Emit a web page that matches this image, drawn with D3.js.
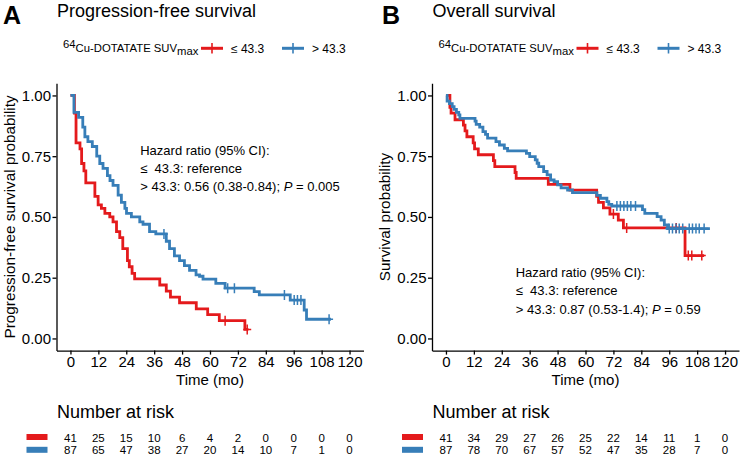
<!DOCTYPE html>
<html>
<head>
<meta charset="utf-8">
<script src="https://cdn.jsdelivr.net/npm/d3@7"></script>
<style>
  body { margin: 0; background: #fff; }
  text { font-family: "Liberation Sans", Arial, sans-serif; fill: #000; }
</style>
</head>
<body>
<div id="chart"></div>
<script>
// tick labels and groups
const timeTicks = [0, 12, 24, 36, 48, 60, 72, 84, 96, 108, 120];
const probTicks = [0, 0.25, 0.5, 0.75, 1];
const groupLabels = ["\u2264 43.3", "> 43.3"];
const groupColors = ["#E41A1C", "#377EB8"];

// A: progression-free survival, SUVmax <= 43.3
const pfsLowTime = [0, 1.7, 2.4, 4.1, 4.8, 5.8, 6.6, 10.5, 11.9, 13.3, 14.8, 16.9, 18.3, 19.8, 21.2, 22.5, 24.5, 25.3, 26.5, 27.6, 38.4, 41.2, 43, 46.9, 54.1, 59, 64, 75, 76.5];
const pfsLowSurv = [1, 0.927, 0.805, 0.78, 0.72, 0.69, 0.64, 0.585, 0.55, 0.535, 0.515, 0.5, 0.48, 0.44, 0.415, 0.37, 0.32, 0.295, 0.268, 0.245, 0.22, 0.195, 0.17, 0.147, 0.122, 0.098, 0.073, 0.037, 0.037];
const pfsLowCensor = [66.5, 76];
// A: SUVmax > 43.3
const pfsHighTime = [0, 1.5, 3.5, 5.3, 6.2, 7.5, 9.4, 11.3, 12.6, 14, 15.9, 17, 18.3, 20.5, 21.9, 23.4, 24.1, 26.2, 29.8, 31.2, 34, 36.7, 41.2, 42.6, 44.7, 46.9, 49, 51.2, 54, 55.5, 57, 62.5, 66.5, 79, 81.2, 94.5, 100.5, 101.5, 112];
const pfsHighSurv = [1, 0.93, 0.91, 0.87, 0.83, 0.81, 0.79, 0.75, 0.72, 0.7, 0.67, 0.65, 0.63, 0.59, 0.56, 0.535, 0.515, 0.5, 0.48, 0.47, 0.44, 0.43, 0.4, 0.37, 0.34, 0.32, 0.3, 0.28, 0.262, 0.256, 0.244, 0.227, 0.207, 0.193, 0.179, 0.158, 0.117, 0.079, 0.079];
const pfsHighCensor = [40.2, 67.6, 70.5, 92, 96.2, 97.6, 99.1, 111.2];
const pfsRiskLow = [41, 25, 15, 10, 6, 4, 2, 0, 0, 0, 0];
const pfsRiskHigh = [87, 65, 47, 38, 27, 20, 14, 10, 7, 1, 0];

// B: overall survival, SUVmax <= 43.3
const osLowTime = [0, 1.7, 2.2, 3.9, 7.5, 8.2, 9, 11.7, 12.3, 13.9, 20.4, 21, 29.7, 30.2, 44, 53.3, 64.8, 65.6, 67.7, 70.5, 74.1, 76.3, 102.8, 111];
const osLowSurv = [1, 0.951, 0.927, 0.9, 0.878, 0.854, 0.83, 0.805, 0.78, 0.756, 0.732, 0.707, 0.683, 0.659, 0.634, 0.61, 0.585, 0.56, 0.537, 0.512, 0.487, 0.455, 0.341, 0.341];
const osLowCensor = [72, 77.7, 99, 104.2, 105.7, 110];
// B: SUVmax > 43.3
const osHighTime = [0, 0.5, 1.5, 2.7, 3.5, 4.5, 5.5, 6, 12.5, 13, 14.5, 15.9, 17, 17.9, 21.5, 23, 25.1, 26.5, 34.6, 36, 38.4, 39.2, 39.9, 42, 43.5, 45, 46.5, 48, 49.5, 52.3, 54.4, 64.9, 66.4, 69.2, 70, 71.3, 84.5, 85.5, 90.8, 92.5, 93.9, 95.3, 113.5];
const osHighSurv = [1, 0.977, 0.966, 0.954, 0.943, 0.93, 0.92, 0.906, 0.894, 0.881, 0.87, 0.851, 0.84, 0.824, 0.81, 0.796, 0.782, 0.772, 0.762, 0.748, 0.735, 0.721, 0.707, 0.687, 0.673, 0.652, 0.645, 0.632, 0.62, 0.611, 0.6, 0.589, 0.577, 0.563, 0.552, 0.545, 0.53, 0.515, 0.501, 0.487, 0.467, 0.452, 0.452];
const osHighCensor = [73.5, 75, 76.5, 78, 79.5, 81.5, 96, 97.4, 98.9, 100.3, 101.8, 104.6, 106, 107.5, 108.9, 111];
const osRiskLow = [41, 34, 29, 27, 26, 25, 22, 14, 11, 1, 0];
const osRiskHigh = [87, 78, 70, 67, 57, 52, 47, 35, 28, 7, 0];

const pfsHrLines = ["Hazard ratio (95% CI):", "\u2264  43.3: reference", "> 43.3: 0.56 (0.38-0.84); ", "= 0.005"];
const osHrLines = ["Hazard ratio (95% CI):", "\u2264  43.3: reference", "> 43.3: 0.87 (0.53-1.4); ", "= 0.59"];

const width = 740, height = 457;
const svg = d3.select("#chart").append("svg")
    .attr("width", width)
    .attr("height", height);

svg.append("rect").attr("width", width).attr("height", height).attr("fill", "#fff");

const panels = [
    {
        letter: "A", title: "Progression-free survival", yTitle: "Progression-free survival probability",
        left: 56.5, right: 363.5, letterX: 3,
        curves: [
            { time: pfsLowTime, surv: pfsLowSurv, censor: pfsLowCensor },
            { time: pfsHighTime, surv: pfsHighSurv, censor: pfsHighCensor }
        ],
        risk: [pfsRiskLow, pfsRiskHigh],
        hr: pfsHrLines, hrY: 154.5
    },
    {
        letter: "B", title: "Overall survival", yTitle: "Survival probability",
        left: 432, right: 739, letterX: 382,
        curves: [
            { time: osLowTime, surv: osLowSurv, censor: osLowCensor },
            { time: osHighTime, surv: osHighSurv, censor: osHighCensor }
        ],
        risk: [osRiskLow, osRiskHigh],
        hr: osHrLines, hrY: 277
    }
];

const plotTop = 83.3, plotBottom = 350.6;

function survAt(c, t) {
    let s = c.surv[0];
    for (let i = 0; i < c.time.length; i++) {
        if (c.time[i] <= t) s = c.surv[i];
    }
    return s;
}

panels.forEach(p => {
    const x = d3.scaleLinear().domain([-6, 126]).range([p.left, p.right]);
    const y = d3.scaleLinear().domain([-0.05, 1.05]).range([plotBottom, plotTop]);
    const g = svg.append("g");

    // panel letter and title
    g.append("text")
        .attr("x", p.letterX).attr("y", 23.5)
        .style("font-size", "25px").style("font-weight", "bold")
        .text(p.letter);
    g.append("text")
        .attr("x", p.left + 0.5).attr("y", 16.5)
        .style("font-size", "18px")
        .text(p.title);

    // legend
    const lx = p.left + 6.5, ly = 52;
    const lt = g.append("text").attr("x", lx).attr("y", ly).style("font-size", "11.3px");
    lt.append("tspan").attr("dy", -4.5).text("64");
    lt.append("tspan").attr("dy", 4.5).text("Cu-DOTATATE SUV");
    lt.append("tspan").attr("dy", 2.5).text("max");
    const keyX = [lx + 138, lx + 219];
    groupColors.forEach((col, i) => {
        g.append("line")
            .attr("x1", keyX[i]).attr("x2", keyX[i] + 22)
            .attr("y1", ly - 3.7).attr("y2", ly - 3.7)
            .attr("stroke", col).attr("stroke-width", 3);
        g.append("line")
            .attr("x1", keyX[i] + 11).attr("x2", keyX[i] + 11)
            .attr("y1", ly - 9).attr("y2", ly + 1.5)
            .attr("stroke", col).attr("stroke-width", 1.6);
        g.append("text")
            .attr("x", keyX[i] + 30).attr("y", ly + 0.5)
            .style("font-size", "12px")
            .text(groupLabels[i]);
    });

    // curves
    const line = d3.line()
        .x(d => x(d[0]))
        .y(d => y(d[1]))
        .curve(d3.curveStepAfter);
    p.curves.forEach((c, i) => {
        const pts = c.time.map((t, k) => [t, c.surv[k]]);
        g.append("path")
            .attr("d", line(pts))
            .attr("fill", "none")
            .attr("stroke", groupColors[i])
            .attr("stroke-width", 2.8);
        g.selectAll(null)
            .data(c.censor)
            .enter()
            .append("path")
            .attr("d", t => {
                const cx = x(t), cy = y(survAt(c, t));
                return `M${cx - 4},${cy}H${cx + 4}M${cx},${cy - 5}V${cy + 5}`;
            })
            .attr("stroke", groupColors[i])
            .attr("stroke-width", 1.5)
            .attr("fill", "none");
    });

    // axes
    const yAxis = g.append("g")
        .attr("transform", `translate(${p.left},0)`)
        .call(d3.axisLeft(y).tickValues(probTicks).tickFormat(d3.format(".2f")).tickSize(4).tickSizeOuter(0).tickPadding(1.5));
    const xAxis = g.append("g")
        .attr("transform", `translate(0,${plotBottom})`)
        .call(d3.axisBottom(x).tickValues(timeTicks).tickSize(4).tickSizeOuter(0).tickPadding(1.5));
    [yAxis, xAxis].forEach(a => {
        a.selectAll("path, line").attr("stroke", "#000").attr("stroke-width", 1.3);
        a.selectAll("text")
            .style("font-size", "15px")
            .style("font-family", "'Liberation Sans', Arial, sans-serif")
            .attr("fill", "#000");
    });

    g.append("text")
        .attr("x", (p.left + p.right) / 2).attr("y", 385)
        .attr("text-anchor", "middle")
        .style("font-size", "15px")
        .text("Time (mo)");
    g.append("text")
        .attr("transform", `translate(${p.left - 42},${(plotTop + plotBottom) / 2}) rotate(-90)`)
        .attr("text-anchor", "middle")
        .style("font-size", "15.3px")
        .text(p.yTitle);

    // hazard ratio annotation
    const hx = x(30);
    p.hr.slice(0, 2).forEach((s, k) => {
        g.append("text")
            .attr("x", hx).attr("y", p.hrY + k * 18.3)
            .style("font-size", "13px")
            .style("white-space", "pre")
            .text(s);
    });
    const h3 = g.append("text")
        .attr("x", hx).attr("y", p.hrY + 2 * 18.3)
        .style("font-size", "13px")
        .style("white-space", "pre");
    h3.append("tspan").text(p.hr[2]);
    h3.append("tspan").style("font-style", "italic").text("P");
    h3.append("tspan").text(" " + p.hr[3]);

    // number at risk table
    g.append("text")
        .attr("x", p.left + 0.5).attr("y", 418)
        .style("font-size", "18px")
        .text("Number at risk");
    const rowY = [441.5, 454.3];
    p.risk.forEach((row, i) => {
        g.append("rect")
            .attr("x", p.left - 30).attr("y", rowY[i] - 7.5)
            .attr("width", 21).attr("height", 6)
            .attr("fill", groupColors[i]);
        g.selectAll(null)
            .data(row)
            .enter()
            .append("text")
            .attr("x", (d, k) => x(timeTicks[k]))
            .attr("y", rowY[i])
            .attr("text-anchor", "middle")
            .style("font-size", "11.5px")
            .text(d => d);
    });
});
</script>
</body>
</html>
